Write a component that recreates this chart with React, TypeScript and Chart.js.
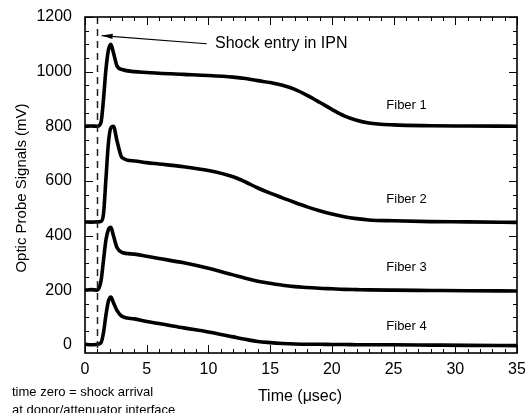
import React, { useEffect, useRef } from "react";
import { Chart, registerables } from "chart.js";

Chart.register(...registerables);

// ---- data ----
const TIME = [0, 0.5, 1.0, 1.3, 1.5, 1.7, 1.9, 2.1, 2.3, 2.6, 3, 4, 5, 6, 8, 10, 12, 13, 14, 15, 16, 17, 18, 19, 20, 21, 22, 23, 25, 28, 31, 35];
const FIBER_1 = [800, 801, 800, 815, 900, 1010, 1080, 1100, 1070, 1020, 1008, 1000, 997, 994, 990, 986, 980, 975, 967, 960, 950, 935, 913, 888, 862, 838, 822, 812, 805, 802, 801, 800];
const FIBER_2 = [450, 449, 450, 452, 480, 610, 740, 795, 800, 745, 685, 673, 667, 662, 652, 638, 615, 596, 574, 555, 538, 521, 505, 491, 479, 469, 462, 457, 454, 451, 450, 448];
const FIBER_3 = [200, 202, 200, 235, 310, 385, 422, 430, 400, 355, 338, 332, 324, 316, 300, 280, 256, 244, 233, 225, 218, 213, 210, 207, 205, 203, 202, 201, 200, 199, 198, 197];
const FIBER_4 = [2, 0, 2, 8, 45, 110, 160, 175, 155, 125, 104, 95, 85, 78, 62, 47, 29, 20, 12, 8, 5, 3, 2, 2, 1, 1, 0, 0, 0, -1, -2, -3];
const SERIES = [FIBER_1, FIBER_2, FIBER_3, FIBER_4];
const SERIES_LABELS = ["Fiber 1", "Fiber 2", "Fiber 3", "Fiber 4"];
const X_TICKS = [0, 5, 10, 15, 20, 25, 30, 35];
const Y_TICKS = [0, 200, 400, 600, 800, 1000, 1200];
const SHOCK_ENTRY_TIME = 0.95;

// ---- annotation placement (data coordinates) ----
const FIBER_LABEL_X = 26.05;
const FIBER_LABEL_Y = [878, 534, 283, 67];
const ARROW_TAIL = { x: 9.86, y: 1102 };
const ARROW_TIP = { x: 1.35, y: 1132 };
const SHOCK_TEXT = { x: 10.53, y: 1101 };

const FONT = "'Liberation Sans', Arial, Helvetica, sans-serif";

export default function App() {
  const ref = useRef<HTMLCanvasElement>(null);

  useEffect(() => {
    if (!ref.current) return;

    const overlay = {
      id: "overlay",
      afterDraw(chart: any) {
        const ctx = chart.ctx as CanvasRenderingContext2D;
        const xs = chart.scales.x;
        const ys = chart.scales.y;
        const { left, right, top, bottom } = chart.chartArea;
        ctx.save();

        // dashed shock-entry line
        ctx.strokeStyle = "#222";
        ctx.lineWidth = 1.5;
        ctx.setLineDash([7, 5]);
        const dx = Math.round(xs.getPixelForValue(SHOCK_ENTRY_TIME)) + 0.5;
        ctx.beginPath();
        ctx.moveTo(dx, top);
        ctx.lineTo(dx, bottom);
        ctx.stroke();
        ctx.setLineDash([]);

        // frame
        ctx.strokeStyle = "#000";
        ctx.lineWidth = 1.6;
        ctx.strokeRect(left, top, right - left, bottom - top);

        // inward ticks
        ctx.lineWidth = 1;
        ctx.beginPath();
        for (let v = 0; v <= 35; v += 1) {
          const px = Math.round(xs.getPixelForValue(v)) + 0.5;
          const len = v % 5 === 0 ? 8 : 4;
          ctx.moveTo(px, bottom);
          ctx.lineTo(px, bottom - len);
          ctx.moveTo(px, top);
          ctx.lineTo(px, top + len);
        }
        for (let v = 0; v <= 1200; v += 50) {
          const py = Math.round(ys.getPixelForValue(v)) + 0.5;
          const len = v % 200 === 0 ? 8 : 4;
          ctx.moveTo(left, py);
          ctx.lineTo(left + len, py);
          ctx.moveTo(right, py);
          ctx.lineTo(right - len, py);
        }
        ctx.stroke();

        // arrow
        const tx = xs.getPixelForValue(ARROW_TAIL.x);
        const ty = ys.getPixelForValue(ARROW_TAIL.y);
        const hx = xs.getPixelForValue(ARROW_TIP.x);
        const hy = ys.getPixelForValue(ARROW_TIP.y);
        ctx.strokeStyle = "#000";
        ctx.lineWidth = 1.2;
        ctx.beginPath();
        ctx.moveTo(tx, ty);
        ctx.lineTo(hx, hy);
        ctx.stroke();
        const ang = Math.atan2(hy - ty, hx - tx);
        const L = 11;
        const W = 2.6;
        const bx = hx - L * Math.cos(ang);
        const by = hy - L * Math.sin(ang);
        ctx.fillStyle = "#000";
        ctx.beginPath();
        ctx.moveTo(hx, hy);
        ctx.lineTo(bx + W * Math.sin(ang), by - W * Math.cos(ang));
        ctx.lineTo(bx - W * Math.sin(ang), by + W * Math.cos(ang));
        ctx.closePath();
        ctx.fill();

        // texts
        ctx.fillStyle = "#000";
        ctx.textBaseline = "middle";
        ctx.textAlign = "left";
        ctx.font = `16px ${FONT}`;
        ctx.fillText("Shock entry in IPN", xs.getPixelForValue(SHOCK_TEXT.x), ys.getPixelForValue(SHOCK_TEXT.y));

        ctx.font = `13px ${FONT}`;
        ctx.textAlign = "center";
        SERIES_LABELS.forEach((lab, i) => {
          ctx.fillText(lab, xs.getPixelForValue(FIBER_LABEL_X), ys.getPixelForValue(FIBER_LABEL_Y[i]));
        });

        // axis titles
        ctx.font = `16px ${FONT}`;
        ctx.textAlign = "center";
        ctx.fillText("Time (\u03bcsec)", 300, 397);

        ctx.save();
        ctx.translate(22, 188);
        ctx.rotate(-Math.PI / 2);
        ctx.font = `15px ${FONT}`;
        ctx.fillText("Optic Probe Signals (mV)", 0, 0);
        ctx.restore();

        // note
        ctx.font = `13px ${FONT}`;
        ctx.textAlign = "left";
        ctx.fillText("time zero = shock arrival", 12, 392);
        ctx.fillText("at donor/attenuator interface", 12, 410);

        ctx.restore();
      },
    };

    const chart = new Chart(ref.current, {
      type: "line",
      data: {
        datasets: SERIES.map((ys, i) => ({
          label: SERIES_LABELS[i],
          data: TIME.map((t, j) => ({ x: t, y: ys[j] })),
          borderColor: "#000",
          borderWidth: 3.6,
          pointRadius: 0,
          fill: false,
          cubicInterpolationMode: "monotone" as const,
        })),
      },
      options: {
        responsive: false,
        animation: false,
        devicePixelRatio: 1,
        layout: { padding: { top: 17, right: 8, left: 0, bottom: 0 } },
        plugins: { legend: { display: false }, tooltip: { enabled: false } },
        scales: {
          x: {
            type: "linear",
            min: 0,
            max: 35,
            grid: { display: false, drawTicks: false },
            border: { display: false },
            ticks: {
              color: "#000",
              font: { size: 16, family: FONT },
              padding: 7,
              maxRotation: 0,
              callback: (v: any) => String(v),
            },
            afterBuildTicks: (s: any) => {
              s.ticks = X_TICKS.map((v) => ({ value: v }));
            },
            afterFit: (s: any) => {
              s.height = 60;
              s.paddingLeft = 0;
              s.paddingRight = 0;
            },
          },
          y: {
            type: "linear",
            min: -30,
            max: 1200,
            grid: { display: false, drawTicks: false },
            border: { display: false },
            ticks: {
              color: "#000",
              font: { size: 16, family: FONT },
              padding: 13,
              callback: (v: any) => String(v),
            },
            afterBuildTicks: (s: any) => {
              s.ticks = Y_TICKS.map((v) => ({ value: v }));
            },
            afterFit: (s: any) => {
              s.width = 85;
              s.paddingTop = 0;
              s.paddingBottom = 0;
            },
          },
        },
      },
      plugins: [overlay],
    });

    return () => chart.destroy();
  }, []);

  return (
    <div style={{ position: "fixed", left: 0, top: 0, width: 525, height: 413, background: "#fff" }}>
      <canvas ref={ref} width={525} height={413} style={{ display: "block", width: 525, height: 413 }} />
    </div>
  );
}
